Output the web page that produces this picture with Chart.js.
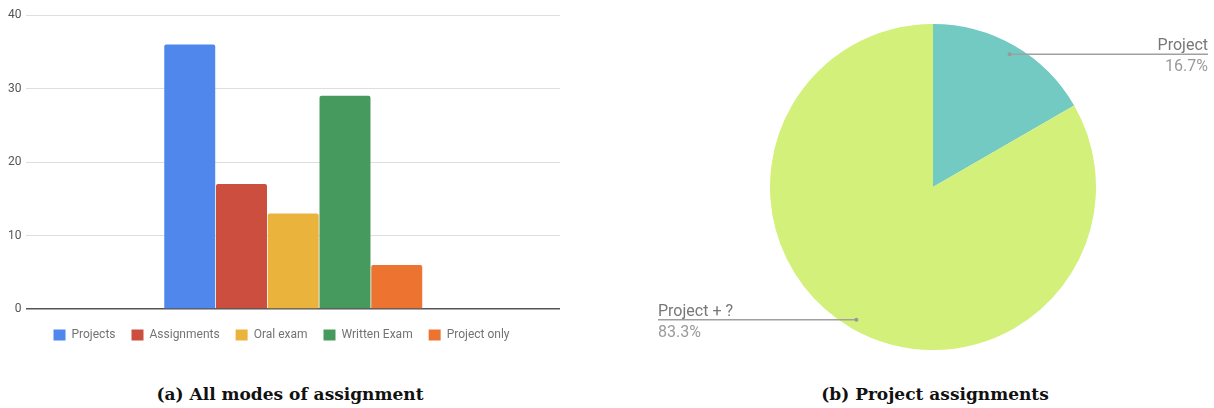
<!DOCTYPE html>
<html>
<head>
<meta charset="utf-8">
<script src="https://cdn.jsdelivr.net/npm/chart.js@4"></script>
<style>
  body { margin: 0; background: #fff; width: 1214px; height: 408px; overflow: hidden; position: relative; }
  .box { position: absolute; }
  .cap { position: absolute; top: 384px; font: bold 17px "DejaVu Serif", "Liberation Serif", serif; color: #111; text-align: center; line-height: 20px; }
</style>
</head>
<body>
<div class="box" style="left:0;top:0;width:580px;height:355px"><canvas id="bars"></canvas></div>
<div class="box" style="left:600px;top:0;width:614px;height:360px"><canvas id="pie"></canvas></div>
<div class="cap" style="left:0;width:580px">(a) All modes of assignment</div>
<div class="cap" style="left:628px;width:614px">(b) Project assignments</div>
<script>
// left chart: all modes
const modes = ['Projects', 'Assignments', 'Oral exam', 'Written Exam', 'Project only'];
const modeCounts = [36, 17, 13, 29, 6];
const modeColors = ['#4f87ec', '#cb4e3f', '#eab43c', '#479a5d', '#ed7430'];
const yTicks = [0, 10, 20, 30, 40];

// right chart: project assignments
const pieLabels = ['Project', 'Project + ?'];
const pieCounts = [6, 30];
const pieColors = ['#72cac3', '#d3f07a'];

Chart.defaults.font.family = 'Roboto, "Noto Sans", sans-serif';

new Chart(document.getElementById('bars'), {
  type: 'bar',
  data: {
    labels: [''],
    datasets: modes.map((m, i) => ({
      label: m,
      data: [modeCounts[i]],
      backgroundColor: modeColors[i],
      borderRadius: 2,
      borderSkipped: 'bottom'
    }))
  },
  options: {
    responsive: true,
    maintainAspectRatio: false,
    animation: false,
    layout: { padding: { left: 3, right: 20, top: 15, bottom: 4 } },
    datasets: { bar: { categoryPercentage: 0.485, barPercentage: 0.985 } },
    plugins: {
      tooltip: { enabled: false },
      legend: {
        position: 'bottom',
        labels: {
          boxWidth: 12, boxHeight: 11, padding: 16,
          color: '#737373', font: { size: 12 }
        }
      }
    },
    scales: {
      x: {
        display: true,
        ticks: { display: false },
        grid: { display: false },
        border: { display: false },
        afterFit: ax => { ax.height = 4; }
      },
      y: {
        min: 0, max: 40,
        afterBuildTicks: ax => { ax.ticks = yTicks.map(v => ({ value: v })); },
        ticks: { color: '#555', font: { size: 12 }, padding: 5 },
        border: { display: false },
        grid: {
          drawTicks: false,
          color: c => c.tick && c.tick.value === 0 ? '#555' : '#dedede',
          lineWidth: c => c.tick && c.tick.value === 0 ? 1.6 : 1
        }
      }
    }
  }
});

const leaderLabels = {
  id: 'leaderLabels',
  afterDraw(chart) {
    const ctx = chart.ctx;
    const meta = chart.getDatasetMeta(0);
    const total = pieCounts.reduce((a, b) => a + b, 0);
    meta.data.forEach((arc, i) => {
      const p = arc.getProps(['x', 'y', 'startAngle', 'endAngle', 'outerRadius'], true);
      const mid = (p.startAngle + p.endAngle) / 2;
      const px = p.x + Math.cos(mid) * p.outerRadius * 0.94;
      const py = p.y + Math.sin(mid) * p.outerRadius * 0.94;
      const right = Math.cos(mid) >= 0;
      const ex = right ? chart.width - 6 : 58;
      ctx.save();
      ctx.strokeStyle = '#a0a0a0';
      ctx.lineWidth = 1.5;
      ctx.beginPath();
      ctx.moveTo(px, py);
      ctx.lineTo(ex, py);
      ctx.stroke();
      ctx.fillStyle = '#999';
      ctx.beginPath();
      ctx.arc(px, py, 2, 0, Math.PI * 2);
      ctx.fill();
      ctx.font = '16px Roboto, sans-serif';
      ctx.textAlign = right ? 'right' : 'left';
      ctx.fillStyle = '#777';
      ctx.textBaseline = 'alphabetic';
      ctx.fillText(pieLabels[i], ex, py - 4);
      ctx.fillStyle = '#9a9a9a';
      ctx.fillText((pieCounts[i] / total * 100).toFixed(1) + '%', ex, py + 17);
      ctx.restore();
    });
  }
};

new Chart(document.getElementById('pie'), {
  type: 'pie',
  data: {
    labels: pieLabels,
    datasets: [{ data: pieCounts, backgroundColor: pieColors, borderWidth: 0 }]
  },
  options: {
    responsive: true,
    maintainAspectRatio: false,
    animation: false,
    layout: { padding: { left: 170, right: 118, top: 24, bottom: 10 } },
    plugins: { legend: { display: false }, tooltip: { enabled: false } }
  },
  plugins: [leaderLabels]
});
</script>
</body>
</html>
